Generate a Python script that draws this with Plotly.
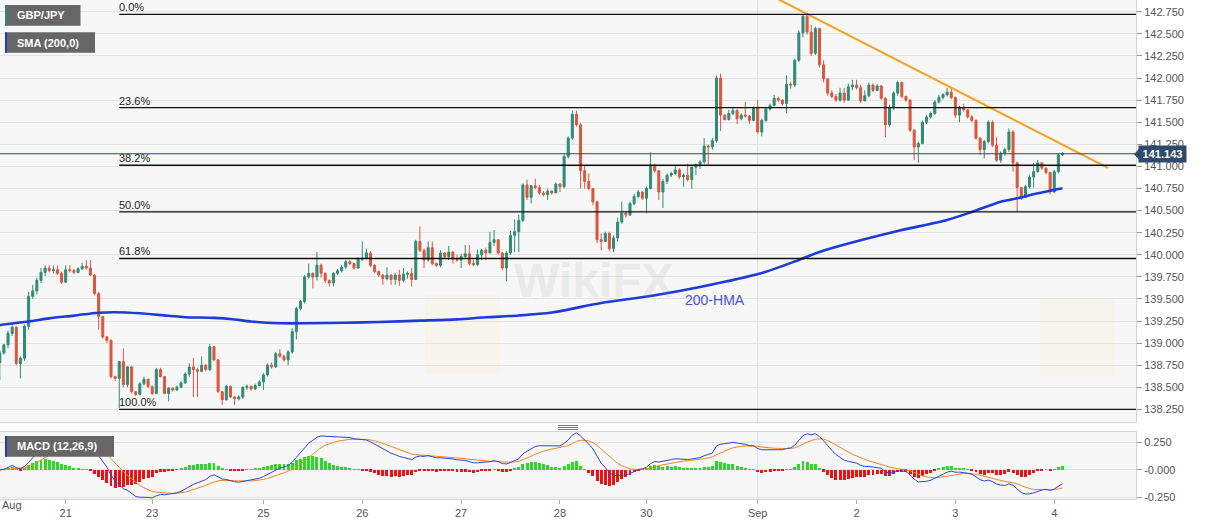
import numpy as np
import plotly.graph_objects as go

# ---------------- data (hourly GBP/JPY candles, index 0..258) ----------------
first_open = 138.78
close = [138.89,138.98,139.11,139.18,138.77,138.83,139.19,139.53,139.59,139.71,
         139.80,139.85,139.82,139.83,139.79,139.69,139.83,139.82,139.80,139.84,
         139.87,139.85,139.77,139.56,139.30,139.07,139.03,138.62,138.60,138.79,
         138.53,138.73,138.45,138.42,138.54,138.59,138.51,138.43,138.70,138.62,
         138.43,138.49,138.47,138.50,138.55,138.65,138.73,138.70,138.68,138.75,
         138.70,138.96,138.81,138.45,138.36,138.51,138.39,138.37,138.39,138.50,
         138.51,138.48,138.52,138.56,138.64,138.75,138.73,138.88,138.85,138.81,
         138.90,139.13,139.39,139.47,139.75,139.79,139.75,139.88,139.79,139.71,
         139.68,139.79,139.82,139.86,139.92,139.90,139.85,139.95,139.96,140.02,
         139.88,139.81,139.77,139.73,139.77,139.72,139.77,139.71,139.78,139.79,
         139.72,140.15,140.05,139.94,140.08,139.90,139.88,140.02,139.98,140.03,
         139.95,139.94,139.98,140.01,139.90,139.89,140.00,140.05,140.02,140.14,
         140.17,140.02,139.85,140.02,140.22,140.26,140.39,140.79,140.65,140.78,
         140.76,140.70,140.68,140.72,140.70,140.80,140.77,141.11,141.32,141.59,
         141.47,140.95,140.83,140.75,140.60,140.17,140.15,140.24,140.07,140.19,
         140.37,140.47,140.45,140.58,140.66,140.71,140.64,140.75,141.01,140.95,
         140.71,140.83,140.90,140.92,140.96,140.88,140.90,140.85,140.99,141.02,
         141.05,141.23,141.22,141.29,142.00,141.58,141.53,141.60,141.63,141.54,
         141.58,141.57,141.52,141.66,141.39,141.52,141.65,141.69,141.77,141.75,
         141.71,141.93,141.92,142.20,142.51,142.70,142.52,142.28,142.56,142.15,
         141.99,141.83,141.79,141.75,141.83,141.75,141.90,141.92,141.89,141.74,
         141.80,141.92,141.86,141.91,141.77,141.47,141.66,141.83,141.95,141.79,
         141.75,141.41,141.22,141.26,141.50,141.56,141.60,141.73,141.78,141.81,
         141.84,141.78,141.58,141.67,141.64,141.56,141.52,141.32,141.19,141.28,
         141.50,141.24,141.07,141.15,141.19,141.39,141.04,140.76,140.65,140.77,
         140.88,140.94,141.04,140.98,140.93,140.71,140.94,141.13,141.143]
high = [138.92,138.99,139.14,139.20,139.19,138.85,139.21,139.58,139.66,139.74,
        139.85,139.88,139.88,139.88,139.88,139.81,139.88,139.88,139.84,139.86,
        139.91,139.94,139.94,139.78,139.58,139.30,139.08,139.04,138.63,138.80,
        138.94,138.74,138.74,138.46,138.56,138.62,138.60,138.52,138.72,138.72,
        138.63,138.50,138.50,138.52,138.57,138.67,138.77,138.83,138.72,138.85,
        138.76,138.99,138.97,138.82,138.46,138.53,138.52,138.40,138.41,138.51,
        138.53,138.52,138.54,138.58,138.66,138.77,138.78,138.90,138.93,138.87,
        138.92,139.17,139.41,139.49,139.77,139.90,139.80,140.03,139.90,139.80,
        139.72,139.80,139.84,139.88,139.94,139.94,139.91,139.97,140.15,140.07,
        140.04,139.89,139.82,139.78,139.86,139.78,139.79,139.83,139.85,139.81,
        139.85,140.17,140.32,140.07,140.15,140.15,139.91,140.05,140.03,140.10,
        140.04,140.00,140.01,140.11,140.11,139.94,140.06,140.07,140.08,140.26,
        140.28,140.17,140.03,140.04,140.27,140.40,140.45,140.81,140.85,140.79,
        140.86,140.79,140.72,140.75,140.73,140.82,140.81,141.14,141.34,141.63,
        141.63,141.49,141.01,140.92,140.75,140.61,140.24,140.26,140.26,140.22,
        140.42,140.60,140.49,140.60,140.69,140.73,140.72,140.77,141.16,141.03,
        140.96,140.86,140.92,140.94,141.01,140.98,140.92,141.03,141.01,141.03,
        141.07,141.32,141.25,141.32,142.03,142.05,141.59,141.64,141.66,141.65,
        141.60,141.73,141.58,141.68,141.75,141.54,141.67,141.71,141.81,141.79,
        141.76,142.03,141.96,142.22,142.54,142.71,142.73,142.60,142.58,142.57,
        142.20,142.00,141.86,141.82,141.89,141.89,141.94,141.98,141.98,141.92,
        141.86,141.95,141.94,141.93,141.92,141.78,141.70,141.85,141.97,141.96,
        141.80,141.76,141.42,141.28,141.52,141.58,141.62,141.75,141.81,141.83,
        141.89,141.90,141.79,141.69,141.71,141.65,141.58,141.53,141.33,141.30,
        141.52,141.52,141.33,141.17,141.21,141.43,141.41,141.05,140.77,140.79,
        140.90,141.04,141.07,141.04,140.99,140.94,140.96,141.14,141.16]
low = [138.58,138.87,138.94,139.08,138.75,138.60,138.80,139.15,139.50,139.55,
       139.68,139.76,139.80,139.79,139.77,139.67,139.68,139.80,139.78,139.79,
       139.83,139.83,139.76,139.54,139.15,139.05,139.00,138.60,138.57,138.26,
       138.50,138.50,138.43,138.40,138.41,138.52,138.49,138.41,138.42,138.61,
       138.42,138.34,138.45,138.46,138.49,138.54,138.62,138.39,138.39,138.67,
       138.68,138.68,138.80,138.44,138.30,138.35,138.38,138.30,138.35,138.37,
       138.47,138.46,138.47,138.51,138.47,138.62,138.71,138.72,138.83,138.79,
       138.75,138.88,139.04,139.37,139.45,139.73,139.62,139.71,139.74,139.68,
       139.64,139.64,139.77,139.80,139.84,139.88,139.83,139.84,139.93,139.95,
       139.86,139.79,139.75,139.66,139.71,139.66,139.66,139.65,139.69,139.73,
       139.64,139.73,140.03,139.85,139.92,139.88,139.86,139.86,139.96,139.94,
       139.90,139.92,139.85,139.96,139.88,139.87,139.87,139.94,139.94,140.02,
       140.10,140.00,139.83,139.70,140.00,140.03,140.03,140.37,140.62,140.58,
       140.74,140.68,140.66,140.62,140.68,140.70,140.71,140.75,141.09,141.30,
       141.45,140.75,140.75,140.73,140.56,140.13,140.05,140.15,140.04,140.03,
       140.15,140.35,140.42,140.44,140.56,140.64,140.62,140.47,140.74,140.93,
       140.62,140.53,140.80,140.88,140.90,140.86,140.77,140.83,140.75,140.90,
       140.97,141.03,141.02,141.19,141.27,141.40,141.52,141.52,141.58,141.48,
       141.52,141.55,141.48,141.51,141.37,141.34,141.50,141.63,141.68,141.73,
       141.69,141.60,141.88,141.90,142.18,142.46,142.49,142.25,142.26,142.12,
       141.95,141.80,141.77,141.73,141.73,141.72,141.74,141.86,141.87,141.72,
       141.74,141.78,141.84,141.85,141.75,141.33,141.45,141.64,141.80,141.77,
       141.73,141.39,141.07,141.04,141.25,141.48,141.54,141.58,141.71,141.76,
       141.79,141.76,141.55,141.50,141.62,141.54,141.50,141.30,141.13,141.09,
       141.26,141.22,141.05,141.04,141.12,141.16,140.94,140.48,140.62,140.64,
       140.75,140.76,140.93,140.96,140.91,140.68,140.70,140.92,141.12]

# 200-period SMA (candle index, value)
sma_idx = [0, 7, 12, 18, 24, 28, 34, 41, 45, 52, 57, 61, 68, 74, 84, 92, 102, 111,
           118, 126, 134, 146, 158, 170, 185, 194, 199, 206, 218, 230, 236, 243,
           247, 251, 258]
sma_val = [139.205, 139.245, 139.280, 139.311, 139.344, 139.349, 139.337, 139.309,
           139.293, 139.286, 139.268, 139.245, 139.225, 139.224, 139.231, 139.239,
           139.254, 139.269, 139.292, 139.312, 139.346, 139.454, 139.533, 139.635,
           139.793, 139.941, 140.031, 140.127, 140.269, 140.393, 140.484, 140.600,
           140.639, 140.684, 140.752]

# falling trendline (two anchor points)
trend_x = [188.9, 269.05]
trend_y = [142.894, 140.982]

# Fibonacci retracement of the swing low (candle 29) to the swing high
fib_low, fib_high = 138.25, 142.72
fib_start = 29
fib_ratios = [0.0, 0.236, 0.382, 0.5, 0.618, 1.0]
fib_names = ["0.0%", "23.6%", "38.2%", "50.0%", "61.8%", "100.0%"]

last_price = 141.143

tick_idx = [16, 37, 64, 88, 112, 136, 157, 184, 208, 232, 256]
tick_txt = ["21", "23", "25", "26", "27", "28", "30", "Sep", "2", "3", "4"]
sep_idx = 184

# ---------------- derived ----------------
n = len(close)
idx = list(range(n))
open_ = [first_open] + close[:-1]
high = [max(h, o, c) for h, o, c in zip(high, open_, close)]
low = [min(l, o, c) for l, o, c in zip(low, open_, close)]


def ema(values, period):
    k = 2.0 / (period + 1)
    out = [values[0]]
    for v in values[1:]:
        out.append(out[-1] + k * (v - out[-1]))
    return np.array(out)


cl = np.array(close)
macd = ema(cl, 12) - ema(cl, 26)
signal = ema(macd, 9)
hist = macd - signal

# ---------------- geometry helpers (pixel -> paper) ----------------
W, H = 1207, 526
PL, PR, PT, PB = 0, 1136, 0, 499   # plotting rectangle in pixels
XMAX = 275.85
XMIN = 0.05


def PX(x):
    return (x - PL) / (PR - PL)


def PY(y):
    return (PB - y) / (PB - PT)


FONT = "Liberation Sans, Arial, sans-serif"
GREEN = "#2f8c74"
RED = "#d9573f"

fig = go.Figure()

fig.add_trace(go.Candlestick(
    x=idx, open=open_, high=high, low=low, close=close,
    increasing=dict(line=dict(color=GREEN, width=1), fillcolor=GREEN),
    decreasing=dict(line=dict(color=RED, width=1), fillcolor=RED),
    whiskerwidth=0, xaxis="x", yaxis="y", showlegend=False, hoverinfo="skip"))

fig.add_trace(go.Scatter(
    x=sma_idx, y=sma_val, mode="lines", line=dict(color="#1f3bd6", width=2.6, shape="spline", smoothing=0.8),
    xaxis="x", yaxis="y", showlegend=False, hoverinfo="skip"))

fig.add_trace(go.Scatter(
    x=trend_x, y=trend_y, mode="lines", line=dict(color="#f7a01c", width=2),
    xaxis="x", yaxis="y", showlegend=False, hoverinfo="skip"))

# MACD panel
fig.add_trace(go.Bar(
    x=idx, y=hist, width=0.72,
    marker=dict(color=["#22dd22" if v >= 0 else "#f01010" for v in hist], line=dict(width=0)),
    xaxis="x2", yaxis="y2", showlegend=False, hoverinfo="skip"))
fig.add_trace(go.Scatter(
    x=idx, y=signal, mode="lines", line=dict(color="#f5851f", width=1),
    xaxis="x2", yaxis="y2", showlegend=False, hoverinfo="skip"))
fig.add_trace(go.Scatter(
    x=idx, y=macd, mode="lines", line=dict(color="#2f43dd", width=1),
    xaxis="x2", yaxis="y2", showlegend=False, hoverinfo="skip"))

shapes = []
annotations = []

# vertical month separator
for yr in ("y domain", "y2 domain"):
    shapes.append(dict(type="line", xref="x", yref=yr, x0=sep_idx, x1=sep_idx, y0=0, y1=1,
                       line=dict(color="#dedede", width=1), layer="below"))

# fibonacci lines + labels
for r, name in zip(fib_ratios, fib_names):
    lvl = fib_high - r * (fib_high - fib_low)
    shapes.append(dict(type="line", xref="x", yref="y", x0=fib_start, x1=XMAX, y0=lvl, y1=lvl,
                       line=dict(color="#111111", width=1.4)))
    annotations.append(dict(x=fib_start, y=lvl, xref="x", yref="y", text=name, showarrow=False,
                            xanchor="left", yanchor="bottom", yshift=-1, xshift=-2,
                            font=dict(family=FONT, size=11, color="#222222")))

# last price line + box
shapes.append(dict(type="line", xref="x", yref="y", x0=XMIN, x1=XMAX, y0=last_price, y1=last_price,
                   line=dict(color="#2d4a6d", width=1)))
shapes.append(dict(type="path", xref="paper", yref="paper",
                   path="M {a},{b} L {c},{d} L {c},{e} Z".format(a=PX(1134), b=PY(154.2), c=PX(1140),
                                                               d=PY(148), e=PY(160.5)),
                   fillcolor="#2d4a6d", line=dict(width=0)))
annotations.append(dict(x=PX(1162.5), y=PY(154.2), xref="paper", yref="paper", text="<b>%.3f</b>" % last_price,
                        showarrow=False, xanchor="center", yanchor="middle",
                        bgcolor="#2d4a6d", borderpad=2, width=43, height=12,
                        font=dict(family=FONT, size=11, color="white")))

# indicator name boxes
def name_box(x0, x1, y0, y1, stripe, text):
    shapes.append(dict(type="rect", xref="paper", yref="paper", x0=PX(x0), x1=PX(x1), y0=PY(y1), y1=PY(y0),
                       fillcolor="#666666", line=dict(width=0)))
    shapes.append(dict(type="rect", xref="paper", yref="paper", x0=PX(x0), x1=PX(x0 + 2), y0=PY(y1), y1=PY(y0),
                       fillcolor=stripe, line=dict(width=0)))
    annotations.append(dict(x=PX(x0 + 10), y=PY((y0 + y1) / 2), xref="paper", yref="paper", text="<b>%s</b>" % text,
                            showarrow=False, xanchor="left", yanchor="middle",
                            font=dict(family=FONT, size=11, color="#ffffff")))

name_box(5, 80.5, 5, 25.7, "#2e8b74", "GBP/JPY")
name_box(5, 95, 32.3, 52.7, "#1f3bd6", "SMA (200,0)")
name_box(5, 114, 436, 456.7, "#1f3bd6", "MACD (12,26,9)")

# panel resize handle
for yy in (425.5, 427.5, 429.5):
    shapes.append(dict(type="line", xref="paper", yref="paper", x0=PX(558), x1=PX(578), y0=PY(yy), y1=PY(yy),
                       line=dict(color="#777777", width=1)))

# 200-HMA label
annotations.append(dict(x=PX(715), y=PY(300), xref="paper", yref="paper", text="200-HMA", showarrow=False,
                        font=dict(family=FONT, size=14, color="#5050d8")))

# first month label
annotations.append(dict(x=PX(0), y=PY(513), xref="paper", yref="paper", text="Aug", showarrow=False,
                        xanchor="left", font=dict(family=FONT, size=11, color="#555555")))

# faint watermark
annotations.append(dict(x=PX(512), y=PY(280), xref="paper", yref="paper", text="<b>WikiFX</b>", showarrow=False,
                        xanchor="left", font=dict(family=FONT, size=48, color="rgba(150,150,150,0.15)")))
for x0, y0 in ((425, 295), (1040, 298)):
    shapes.append(dict(type="rect", xref="paper", yref="paper", x0=PX(x0), x1=PX(x0 + 75), y0=PY(y0 + 78), y1=PY(y0),
                       fillcolor="rgba(250,215,110,0.08)", line=dict(width=0), layer="below"))

axis_common = dict(showline=True, mirror=True, linecolor="#d4d4d4", linewidth=1)

fig.update_layout(
    width=W, height=H,
    margin=dict(l=PL, r=W - PR, t=PT, b=H - PB),
    paper_bgcolor="white", plot_bgcolor="#f7f7f7",
    font=dict(family=FONT, size=11, color="#555555"),
    showlegend=False, bargap=0,
    shapes=shapes, annotations=annotations,
    xaxis=dict(domain=[0, 1], anchor="y", range=[XMIN, XMAX], showticklabels=False, showgrid=False,
               zeroline=False, rangeslider=dict(visible=False), fixedrange=True, **axis_common),
    yaxis=dict(domain=[PY(422), 1], anchor="x", side="right", range=[138.107, 142.883],
               tick0=138.25, dtick=0.25, tickformat=".3f", ticks="outside", ticklen=5, tickcolor="#999999",
               showgrid=True, gridcolor="#e4e4e4", zeroline=False,
               tickfont=dict(family=FONT, size=11, color="#555555"), **axis_common),
    xaxis2=dict(domain=[0, 1], anchor="y2", range=[XMIN, XMAX], tickvals=tick_idx, ticktext=tick_txt,
                ticks="outside", ticklen=4, tickcolor="#aaaaaa", showgrid=False, zeroline=False,
                tickfont=dict(family=FONT, size=11, color="#555555"), **axis_common),
    yaxis2=dict(domain=[0, PY(432)], anchor="x2", side="right", range=[-0.264, 0.345],
                tickvals=[-0.25, 0, 0.25], ticktext=["-0.250", "-0.000", "0.250"],
                ticks="outside", ticklen=5, tickcolor="#999999",
                showgrid=True, gridcolor="#e4e4e4", zeroline=False,
                tickfont=dict(family=FONT, size=11, color="#555555"), **axis_common),
)

fig.write_html("out.html", config={"displayModeBar": False},
               post_script="document.body.style.margin='0px';document.body.style.overflow='hidden';")
